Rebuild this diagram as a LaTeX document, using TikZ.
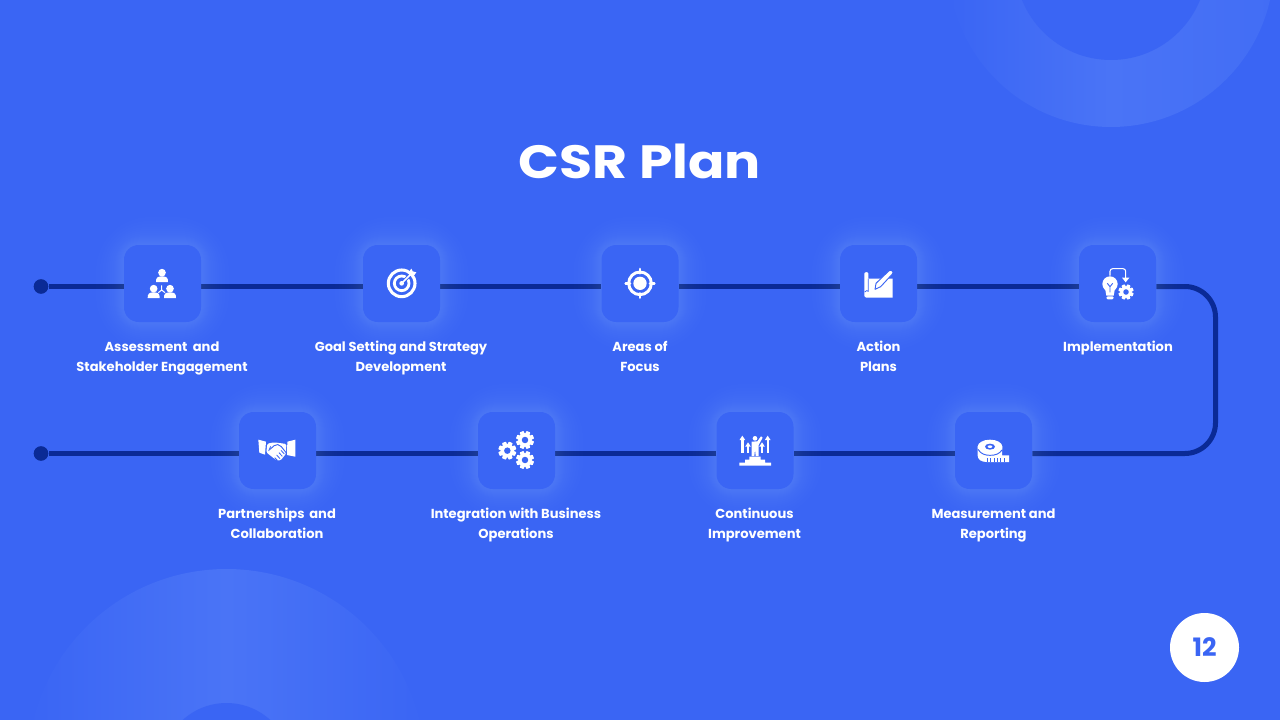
\documentclass[tikz,border=0pt]{standalone}
\usepackage{fontspec}
\setmainfont{Poppins}
\usetikzlibrary{calc}
\definecolor{bgblue}{HTML}{3A65F4}
\definecolor{ringpeak}{HTML}{4A74F6}
\definecolor{ringedge}{HTML}{426DF5}
\definecolor{flowblue}{HTML}{0A2A96}
\pgfdeclarelayer{deco}
\pgfdeclarelayer{lines}
\pgfsetlayers{deco,lines,main}
\tikzset{
  iconbox/.style={minimum size=57.75pt,rounded corners=11pt,fill=bgblue,inner sep=0pt},
  caption/.style={anchor=north,align=center,text=white,inner sep=0pt,font=\fontsize{9.8}{15}\selectfont\bfseries},
  flow/.style={draw=flowblue,line width=3.75pt},
  enddot/.style={circle,fill=flowblue,minimum size=11pt,inner sep=0pt},
  zoomed/.style={x=0.25pt,y=-0.25pt},
}
\newcommand{\glowbox}[2]{%
  \foreach \e in {1,2,3,4,5,6,7,8,9,10,12,14,16,18,21,24,28}{%
    \pgfmathsetmacro{\rr}{(15+1.4*\e)*0.75}%
    \fill[white,opacity=0.009,rounded corners=\rr pt]
      (#1-38.5-\e,#2-38.5-\e) rectangle (#1+38.5+\e,#2+38.5+\e);
  }%
}
\newcommand{\gearshape}[3]{%
  \begin{scope}[shift={(#1,#2)}]
    \fill[white] (0,0) circle[radius=#3*0.76];
    \foreach \a in {0,45,...,315}{%
      \fill[white,rotate=\a+22.5,rounded corners=0.5pt] (-#3*0.24,0) rectangle (#3*0.24,#3);
    }
    \fill[bgblue] (0,0) circle[radius=#3*0.36];
  \end{scope}%
}
\newcommand{\personshape}[2]{%
  \fill[white] (#1,#2) circle[radius=11.5];
  \fill[white] (#1-18,#2+28) .. controls (#1-18.5,#2+15) and (#1-13,#2+11) .. (#1,#2+11)
     .. controls (#1+13,#2+11) and (#1+18.5,#2+15) .. (#1+18,#2+28) -- cycle;
}
\newcommand{\uparrowshape}[3]{%
  \fill[white] (#1-3.5,#2+10) rectangle (#1+3.5,#3);
  \fill[white] (#1-8.5,#2+13) -- (#1,#2) -- (#1+8.5,#2+13) -- cycle;
}
\begin{document}
\begin{tikzpicture}[x=0.75pt,y=-0.75pt]
\useasboundingbox (0,0) rectangle (1280,720);
\begin{pgfonlayer}{deco}
  \fill[bgblue] (0,0) rectangle (1280,720);
  \begin{scope}
    \clip (0,0) rectangle (1280,720);
    \shade[left color=bgblue,right color=ringedge,middle color=ringpeak] (1111,-36) circle[radius=163];
    \fill[bgblue] (1111,-36) circle[radius=96];
    \shade[left color=bgblue,right color=bgblue,middle color=ringpeak] (226.5,768) circle[radius=199];
    \fill[bgblue] (226.5,768) circle[radius=65];
  \end{scope}
\end{pgfonlayer}

% title and page number
\node[text=white,font=\fontsize{35}{40}\selectfont\bfseries,inner sep=0pt] (title) at (640,161.5) {\scalebox{1.15}[1]{CSR Plan}};
\node[circle,fill=white,minimum size=51.75pt,inner sep=0pt,text=bgblue,font=\fontsize{19}{20}\selectfont\bfseries] (page) at (1204.5,647.5) {\raisebox{0.8pt}{12}};

% glows and boxes
\glowbox{162.5}{283.5}\glowbox{401.5}{283.5}\glowbox{640}{283.5}\glowbox{878.5}{283.5}\glowbox{1117.5}{283.5}
\glowbox{277.5}{450.5}\glowbox{516.5}{450.5}\glowbox{755}{450.5}\glowbox{993.5}{450.5}
\node[iconbox] (b1) at (162.5,283.5) {};
\node[iconbox] (b2) at (401.5,283.5) {};
\node[iconbox] (b3) at (640,283.5) {};
\node[iconbox] (b4) at (878.5,283.5) {};
\node[iconbox] (b5) at (1117.5,283.5) {};
\node[iconbox] (b6) at (993.5,450.5) {};
\node[iconbox] (b7) at (755,450.5) {};
\node[iconbox] (b8) at (516.5,450.5) {};
\node[iconbox] (b9) at (277.5,450.5) {};

% captions
\node[caption] (t1) at (162,337) {\strut Assessment\hspace{0.2em} and\\Stakeholder Engagement};
\node[caption] (t2) at (401,337) {\strut Goal Setting and Strategy\\Development};
\node[caption] (t3) at (640,337) {\strut Areas of\\Focus};
\node[caption] (t4) at (878.5,337) {\strut Action\\Plans};
\node[caption] (t5) at (1118,337) {\strut Implementation};
\node[caption] (t6) at (993.5,504) {\strut Measurement and\\Reporting};
\node[caption] (t7) at (754.5,504) {\strut Continuous\\Improvement};
\node[caption] (t8) at (516,504) {\strut Integration with Business\\Operations};
\node[caption] (t9) at (277,504) {\strut Partnerships\hspace{0.15em} and\\Collaboration};

% connectors
\node[enddot] (d1) at (41,286.5) {};
\node[enddot] (d2) at (41,453.5) {};
\coordinate (turnA) at (1215.5,286.5);
\coordinate (turnB) at (1215.5,453.5);
\begin{pgfonlayer}{lines}
  \draw[flow] (d1) -- (d1 -| b1.west);
  \draw[flow] (d1 -| b1.east) -- (d1 -| b2.west);
  \draw[flow] (d1 -| b2.east) -- (d1 -| b3.west);
  \draw[flow] (d1 -| b3.east) -- (d1 -| b4.west);
  \draw[flow] (d1 -| b4.east) -- (d1 -| b5.west);
  \draw[flow,rounded corners=23pt] (d1 -| b5.east) -- (turnA) -- (turnB) -- (d2 -| b6.east);
  \draw[flow] (d2 -| b6.west) -- (d2 -| b7.east);
  \draw[flow] (d2 -| b7.west) -- (d2 -| b8.east);
  \draw[flow] (d2 -| b8.west) -- (d2 -| b9.east);
  \draw[flow] (d2 -| b9.west) -- (d2);
\end{pgfonlayer}

% icon 1: three people
\begin{scope}[shift={(100,230)},zoomed]
  \personshape{186}{128}
  \personshape{161}{176}
  \personshape{210}{176}
  \draw[white,line width=0.8pt] (185,180) -- (185,166) (185,180) -- (175,188) (185,180) -- (195,188);
\end{scope}
% icon 2: target
\begin{scope}[shift={(100,230)},zoomed]
  \draw[white,line width=2.3pt] (905,160) circle[radius=40];
  \draw[white,line width=2.1pt] (905,160) circle[radius=22];
  \fill[white] (905,160) circle[radius=7];
  \draw[bgblue,line width=2.6pt] (910,155) -- (945,120);
  \draw[white,line width=1.1pt] (905,160) -- (935,130);
  \fill[white] (924,130) -- (934,116) -- (938,124) -- (949,127) -- (941,138) -- (932,138) -- cycle;
\end{scope}
% icon 3: crosshair
\begin{scope}[shift={(590,230)},zoomed]
  \draw[white,line width=2.2pt] (150,160) circle[radius=34];
  \fill[white] (150,160) circle[radius=20];
  \draw[white,line width=2pt,line cap=round] (150,117) -- (150,130) (150,190) -- (150,203) (107,160) -- (120,160) (180,160) -- (193,160);
\end{scope}
% icon 4: plan with pen
\begin{scope}[shift={(590,230)},zoomed]
  \fill[white] (823,131) .. controls (823,125) and (835,125) .. (835,131) -- (835,146) -- (908,146) -- (908,203) -- (830,203) .. controls (825,203) and (823,200) .. (823,196) -- cycle;
  \draw[bgblue,line width=0.6pt] (824,186) .. controls (828,181) and (832,181) .. (835,184) -- (835,146);
  \fill[white,draw=bgblue,line width=0.7pt,line join=round] (895,124) .. controls (900,117) and (912,122) .. (908,131) -- (872,170) -- (855,178) -- (858,160) -- cycle;
\end{scope}
% icon 5: bulb, gear and arrow
\begin{scope}[shift={(1070,235)},zoomed]
  \fill[white] (120,147) circle[radius=23];
  \fill[white] (105,160) -- (135,160) -- (131,182) -- (109,182) -- cycle;
  \fill[white,rounded corners=1pt] (109,184) rectangle (131,193);
  \draw[bgblue,line width=0.7pt] (120,172) -- (120,155) (112,145) -- (120,155) -- (128,145);
  \draw[white,line width=0.8pt,rounded corners=2pt] (120,122) -- (120,101) -- (167,101) -- (167,130);
  \fill[white] (156,128) -- (178,128) -- (167,142) -- cycle;
\end{scope}
\begin{scope}[shift={(1070,235)},zoomed]
  \gearshape{168}{171}{23}
\end{scope}
% icon 6: handshake
\begin{scope}[shift={(230,405)},zoomed]
  \fill[white] (85,104) -- (108,110) -- (105,149) -- (88,143) -- cycle;
  \fill[white] (172,110) -- (196,104) -- (196,155) -- (171,150) -- cycle;
  \fill[white,rounded corners=1pt] (112,116) -- (132,112) -- (148,114) -- (169,117) -- (168,146) -- (152,166) -- (140,166) -- (124,154) -- (109,142) -- cycle;
  \draw[bgblue,line width=0.7pt,rounded corners=1.5pt] (120,133) -- (137,118) -- (150,120) -- (169,144);
  \draw[bgblue,line width=0.6pt] (122,124) -- (116,138) (142,166) -- (134,158) (150,161) -- (140,150) (157,154) -- (147,143) (163,147) -- (153,136);
\end{scope}
% icon 7: three gears
\begin{scope}[shift={(230,405)},zoomed]
  \gearshape{832}{137}{27}
  \gearshape{885}{105}{27}
  \gearshape{885}{165}{27}
\end{scope}
% icon 8: figure on podium with arrows
\begin{scope}[shift={(710,405)},zoomed]
  \fill[white] (88,182) -- (88,173) -- (105,173) -- (105,164) -- (118,164) -- (118,155) -- (152,155) -- (152,164) -- (165,164) -- (165,173) -- (183,173) -- (183,182) -- cycle;
  \uparrowshape{97}{92}{144}
  \uparrowshape{114}{112}{144}
  \uparrowshape{156}{112}{144}
  \uparrowshape{173}{92}{144}
  \fill[white] (135,100) circle[radius=7];
  \fill[white] (125,110) -- (142,109) -- (153,94) -- (158,98) -- (146,120) -- (146,153) -- (137,153) -- (135,133) -- (133,153) -- (125,153) -- cycle;
\end{scope}
% icon 9: measuring tape
\begin{scope}[shift={(710,405)},zoomed]
  \fill[white] (803,125) -- (803,152) .. controls (803,164) and (815,171) .. (830,171) -- (897,171) -- (897,151) -- (876,151) -- (877,125) -- cycle;
  \fill[white] (840,125) ellipse[x radius=37,y radius=21];
  \draw[bgblue,line width=0.7pt] (804,133) .. controls (812,147) and (826,151) .. (840,151) .. controls (858,151) and (868,146) .. (876,135);
  \fill[bgblue] (840,125) ellipse[x radius=15,y radius=9];
  \fill[white] (840,125) ellipse[x radius=7,y radius=4];
  \draw[bgblue,line width=0.6pt] \foreach \tx in {832,842,852,862,872,882} {(\tx,171) -- (\tx,160)};
\end{scope}
\end{tikzpicture}
\end{document}
